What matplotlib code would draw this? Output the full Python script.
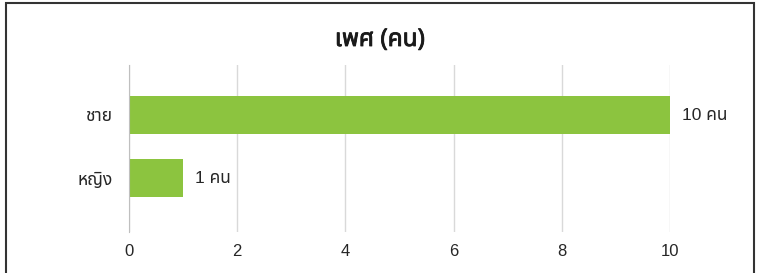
import matplotlib
matplotlib.use('Agg')
import matplotlib.pyplot as plt
import matplotlib.patheffects as pe
from matplotlib.patches import Rectangle

# データ
categories = ['หญิง', 'ชาย']
values = [1, 10]
value_labels = ['1 คน', '10 คน']
title = 'เพศ (คน)'
xticks = [0, 2, 4, 6, 8, 10]

# 数字はArial系、タイ文字はNoto Sans Thaiへフォールバック
plt.rcParams['font.family'] = ['Liberation Sans', 'Noto Sans Thai', 'DejaVu Sans']

W, H = 762, 273
fig = plt.figure(figsize=(W / 100, H / 100), dpi=100)
ax = fig.add_axes([129 / W, 1 - 232 / H, (670 - 129) / W, (232 - 65) / H])

ax.barh(range(len(categories)), values, height=0.59, color='#8cc43f')
ax.set_xlim(0, 10)
ax.set_ylim(-0.857, 1.794)
ax.set_xticks(xticks)
ax.set_yticks(range(len(categories)))
ax.set_yticklabels(categories, fontsize=12.5, color='#262626')
ax.tick_params(axis='x', labelsize=12, colors='#262626', length=0, pad=9)
ax.tick_params(axis='y', length=0, pad=12)
ax.grid(axis='x', color='#d9d9d9', linewidth=1)
ax.set_axisbelow(True)
for s in ['top', 'right', 'bottom']:
    ax.spines[s].set_visible(False)
ax.spines['left'].set_color('#bfbfbf')

for i, (v, lab) in enumerate(zip(values, value_labels)):
    ax.text(v + 0.22, i, lab, va='center', ha='left', fontsize=12.5, color='#262626',
            clip_on=False)

# タイトル（タイ文字の太字が無いので縁取りで少し太く見せる）
fig.text(380 / W, 1 - 40 / H, title, ha='center', va='center', fontsize=17.5,
         family=['Noto Sans Thai', 'DejaVu Sans'], fontweight='bold', color='#1a1a1a',
         path_effects=[pe.withStroke(linewidth=0.6, foreground='#1a1a1a')])

# 外枠
fig.patches.append(Rectangle((6 / W, -0.05), 748 / W, 1 - 3 / H + 0.05,
                             transform=fig.transFigure, fill=False,
                             edgecolor='#333333', linewidth=1.5))

fig.savefig('out.png', dpi=100)
